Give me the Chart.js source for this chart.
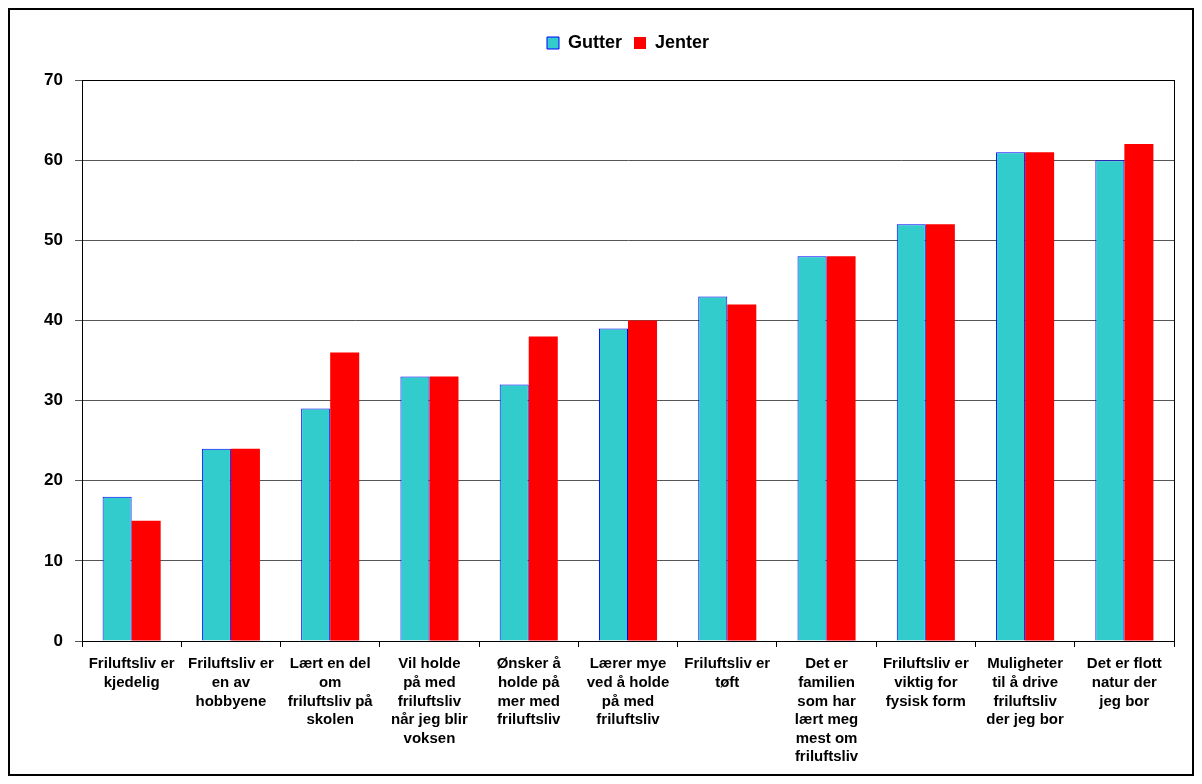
<!DOCTYPE html>
<html lang="no">
<head>
    <meta charset="UTF-8">
    <title>Friluftsliv - Gutter og Jenter</title>
    <style>
        body { margin: 0; padding: 0; background: #fff; font-family: "Liberation Sans", Arial, sans-serif; }
        #ramme { position: absolute; left: 8px; top: 8px; width: 1182px; height: 764px; border: 2px solid #000; }
        #ramme canvas { display: block; }
    </style>
</head>
<body>
    <div id="ramme">
        <canvas id="barChart" width="1182" height="764"></canvas>
    </div>
    <script src="https://cdn.jsdelivr.net/npm/chart.js"></script>
    <script>
    // Kategorier (flere linjer per etikett, slik som i originalen)
    const kategorier = [
        ['Friluftsliv er', 'kjedelig'],
        ['Friluftsliv er', 'en av', 'hobbyene'],
        ['Lært en del', 'om', 'friluftsliv på', 'skolen'],
        ['Vil holde', 'på med', 'friluftsliv', 'når jeg blir', 'voksen'],
        ['Ønsker å', 'holde på', 'mer med', 'friluftsliv'],
        ['Lærer mye', 'ved å holde', 'på med', 'friluftsliv'],
        ['Friluftsliv er', 'tøft'],
        ['Det er', 'familien', 'som har', 'lært meg', 'mest om', 'friluftsliv'],
        ['Friluftsliv er', 'viktig for', 'fysisk form'],
        ['Muligheter', 'til å drive', 'friluftsliv', 'der jeg bor'],
        ['Det er flott', 'natur der', 'jeg bor']
    ];
    const gutter = [18, 24, 29, 33, 32, 39, 43, 48, 52, 61, 60];
    const jenter = [15, 24, 36, 33, 38, 40, 42, 48, 52, 61, 62];
    const yTicks = [0, 10, 20, 30, 40, 50, 60, 70];

    // tegner ramme rundt plottområdet
    const plotRamme = {
        id: 'plotRamme',
        afterDraw(chart) {
            const a = chart.chartArea, ctx = chart.ctx;
            ctx.save();
            ctx.strokeStyle = '#000';
            ctx.lineWidth = 1;
            ctx.strokeRect(Math.round(a.left) + 0.5, Math.round(a.top) + 0.5, Math.round(a.right - a.left), Math.round(a.bottom - a.top));
            ctx.restore();
        }
    };

    // mer luft under forklaringen, og sentrer den over plottområdet
    const legendLuft = {
        id: 'legendLuft',
        beforeInit(chart) {
            const fit = chart.legend.fit;
            chart.legend.fit = function () {
                fit.bind(chart.legend)();
                this.height += 18;
            };
        },
        afterLayout(chart) {
            chart.legend.left = chart.chartArea.left;
            chart.legend.right = chart.chartArea.right;
        }
    };

    new Chart(document.getElementById('barChart'), {
        type: 'bar',
        data: {
            labels: kategorier,
            datasets: [
                { label: 'Gutter', data: gutter, backgroundColor: '#33CCCC', borderColor: '#0000FF', borderWidth: 1,
                  barPercentage: 1.0, categoryPercentage: 0.585 },
                { label: 'Jenter', data: jenter, backgroundColor: '#FF0000', borderColor: '#FF0000', borderWidth: 0,
                  barPercentage: 1.0, categoryPercentage: 0.585 }
            ]
        },
        options: {
            responsive: false,
            animation: false,
            layout: { padding: { top: 12, right: 18, left: 0, bottom: 0 } },
            plugins: {
                legend: {
                    position: 'top',
                    labels: {
                        color: '#000',
                        font: { family: '"Liberation Sans", Arial', size: 18, weight: 'bold' },
                        boxWidth: 12, boxHeight: 12, padding: 12
                    }
                },
                tooltip: { enabled: false }
            },
            scales: {
                x: {
                    grid: { display: true, offset: true, drawOnChartArea: false, drawTicks: true, tickLength: 6, color: '#000' },
                    border: { color: '#000', width: 1 },
                    ticks: {
                        color: '#000', maxRotation: 0, autoSkip: false, padding: 8,
                        font: { family: '"Liberation Sans", Arial', size: 15, weight: 'bold', lineHeight: 1.24 }
                    },
                    afterFit(s) { s.height = 133; }
                },
                y: {
                    min: 0, max: 70,
                    afterBuildTicks(s) { s.ticks = yTicks.map(v => ({ value: v })); },
                    grid: { color: '#555', lineWidth: 1, tickLength: 7 },
                    border: { color: '#000', width: 1 },
                    ticks: {
                        color: '#000', padding: 12,
                        font: { family: '"Liberation Sans", Arial', size: 17, weight: 'bold' }
                    },
                    afterFit(s) { s.width = 72; }
                }
            }
        },
        plugins: [plotRamme, legendLuft]
    });
    </script>
</body>
</html>
